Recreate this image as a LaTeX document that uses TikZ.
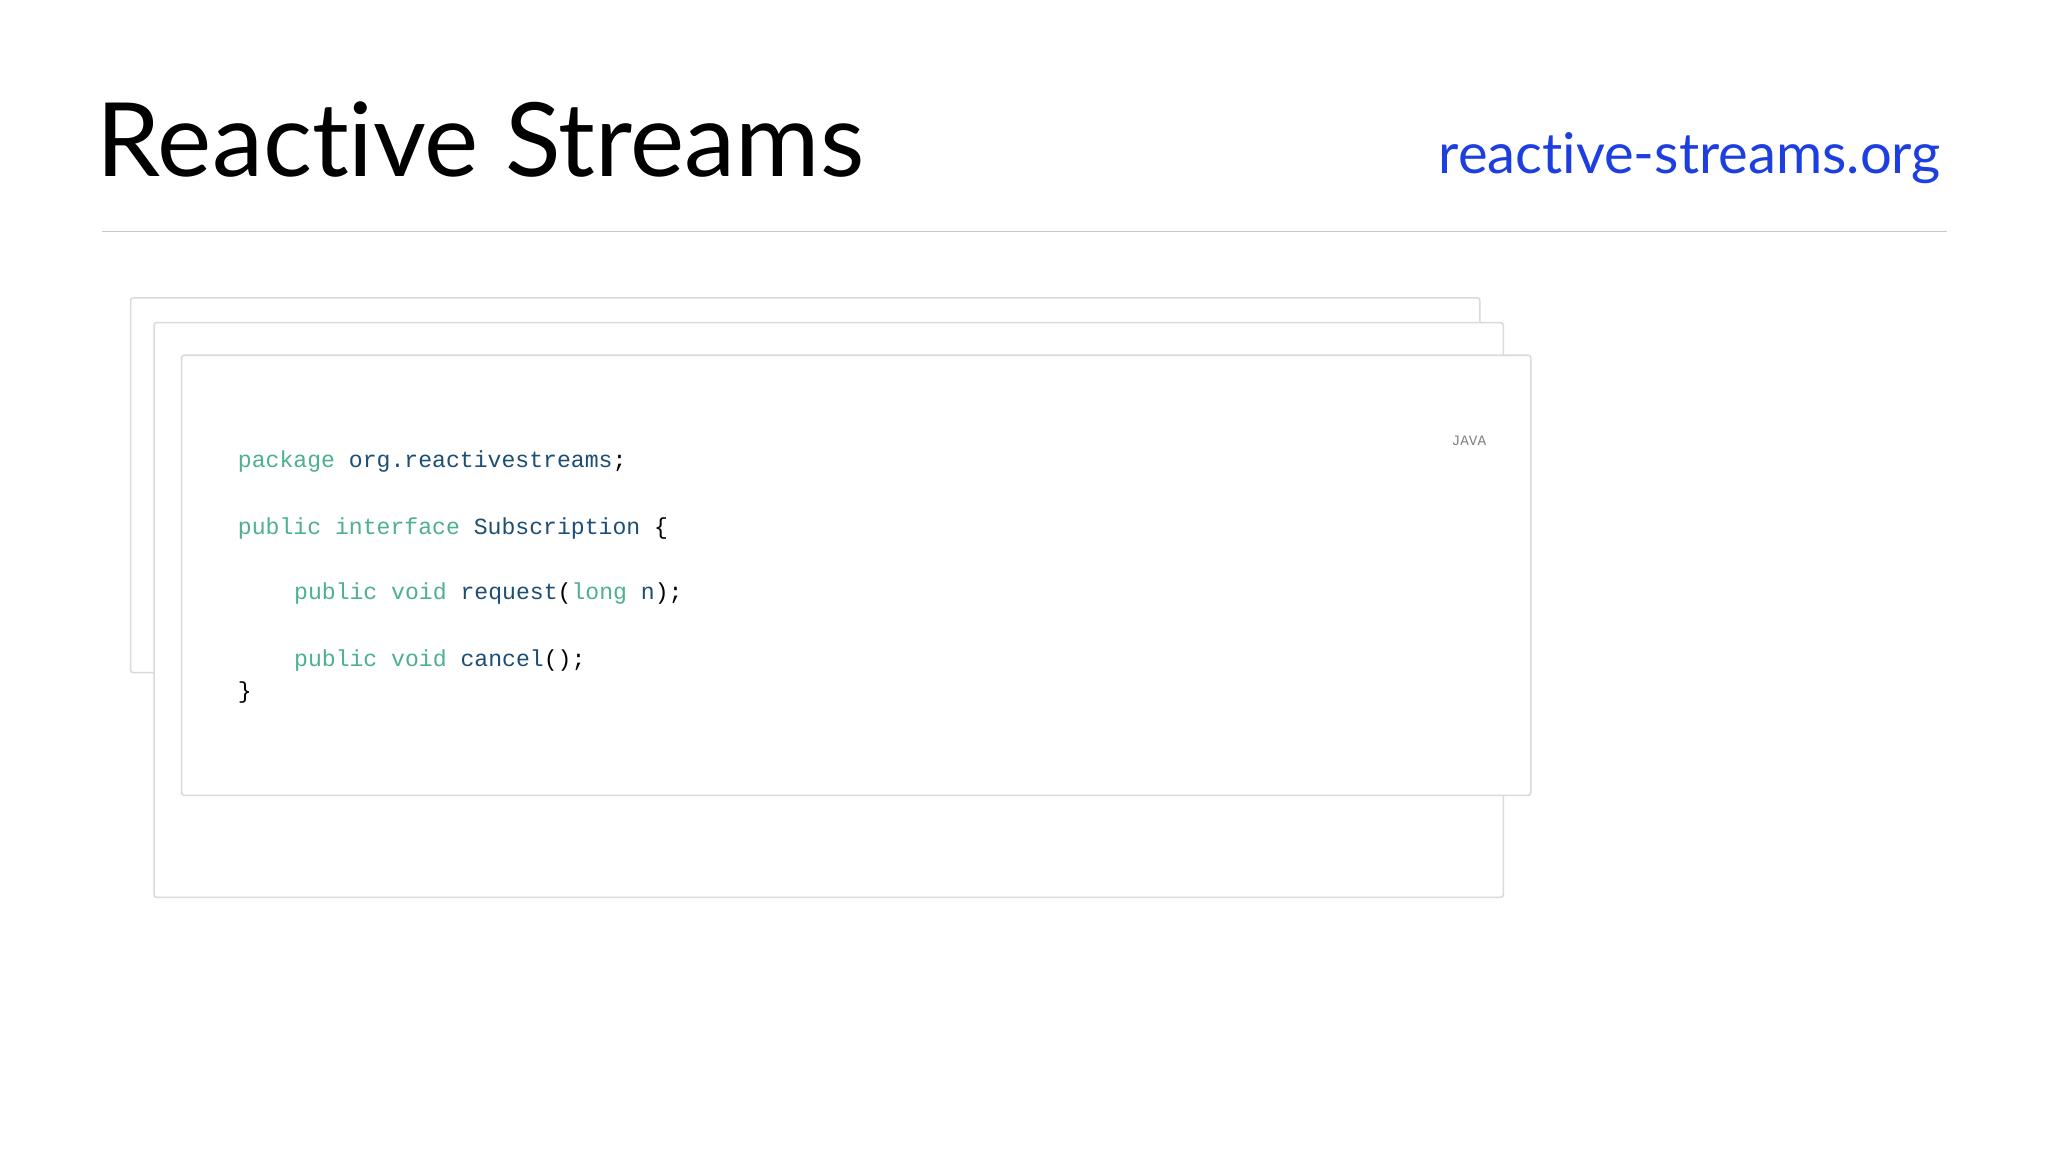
\documentclass[tikz,border=0pt]{standalone}
\usepackage{fontspec}
\setmainfont{Lato}[Ligatures={NoCommon,NoRare}]
\newfontfamily\codefont{Liberation Mono}
\definecolor{kw}{HTML}{4DB08F}
\definecolor{idn}{HTML}{1D4E75}
\definecolor{linkblue}{HTML}{1E3FE0}
\definecolor{cardline}{HTML}{DADADA}
\begin{document}
\begin{tikzpicture}[x=1pt,y=-1pt,
  card/.style={draw=cardline,line width=1.2pt,fill=white,rounded corners=2pt},
  code/.style={anchor=base west,inner sep=0,font=\codefont\fontsize{17.7}{20}\selectfont}]
\useasboundingbox[fill=white] (0,0) rectangle (1568,882);
\node[anchor=base west,inner sep=0,font=\fontsize{78.5}{84}\selectfont] (title) at (74,135) {Reactive Streams};
\node[anchor=base east,inner sep=0,text=linkblue,font=\fontsize{43}{50}\selectfont] (link) at (1486,133) {reactive-streams.org};
\coordinate (l1) at (78,177); \coordinate (l2) at (1491,177);
\draw[color=black!22,line width=0.8pt] (l1) -- (l2);
\draw[card] (100,228) rectangle (1133,515);
\draw[card] (118,247) rectangle (1151,687);
\draw[card] (139,272) rectangle (1172,609);
\node[anchor=base east,inner sep=0,text=black!50,font=\codefont\fontsize{11}{12}\selectfont] (java) at (1138,341) {JAVA};
\node[code] (c1) at (182,358) {\textcolor{kw}{package} \textcolor{idn}{org.reactivestreams};};
\node[code] (c2) at (182,409) {\textcolor{kw}{public interface} \textcolor{idn}{Subscription} \{};
\node[code] (c3) at (225,459) {\textcolor{kw}{public void} \textcolor{idn}{request}(\textcolor{kw}{long} \textcolor{idn}{n});};
\node[code] (c4) at (225,510) {\textcolor{kw}{public void} \textcolor{idn}{cancel}();};
\node[code] (c5) at (182,535) {\}};
\end{tikzpicture}
\end{document}
